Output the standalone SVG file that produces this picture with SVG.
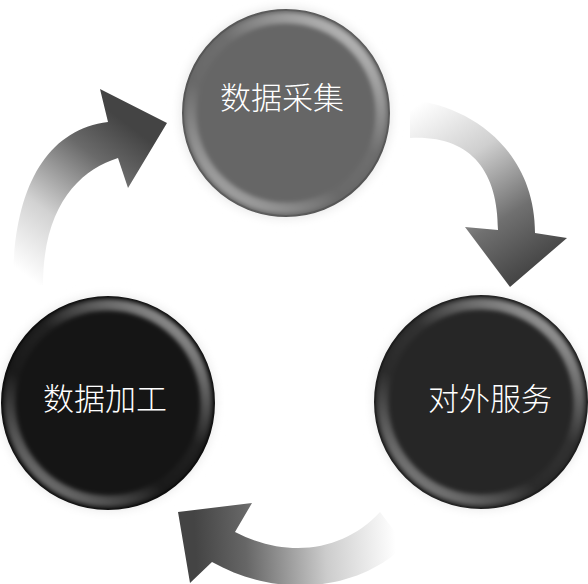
<svg xmlns="http://www.w3.org/2000/svg" width="588" height="584" viewBox="0 0 588 584">
<style>
.label{font-family:"Noto Sans CJK SC","Noto Sans",sans-serif;font-size:31px;font-weight:300;fill:#ffffff;text-anchor:middle}
.halo{filter:url(#blur3)}
.rim{fill:none;stroke:url(#rimHi);stroke-width:11;filter:url(#blur2)}
</style>
<defs>
<filter id="blur3" x="-20%" y="-20%" width="140%" height="140%"><feGaussianBlur stdDeviation="3"/></filter>
<filter id="blur2" x="-20%" y="-20%" width="140%" height="140%"><feGaussianBlur stdDeviation="2.2"/></filter>
<linearGradient id="rimHi" x1="0.85" y1="0.05" x2="0.15" y2="0.95">
<stop offset="0" stop-color="#fff" stop-opacity="0.55"/>
<stop offset="0.4" stop-color="#fff" stop-opacity="0.05"/>
<stop offset="0.65" stop-color="#fff" stop-opacity="0.02"/>
<stop offset="1" stop-color="#fff" stop-opacity="0.42"/>
</linearGradient>
<radialGradient id="haloG">
<stop offset="0.8" stop-color="#e2e2e2"/>
<stop offset="0.9" stop-color="#ebebeb"/>
<stop offset="1" stop-color="#ffffff" stop-opacity="0"/>
</radialGradient>
<linearGradient id="a1" gradientUnits="userSpaceOnUse" x1="25" y1="275" x2="135" y2="130">
<stop offset="0" stop-color="#ffffff"/>
<stop offset="0.35" stop-color="#d2d2d2"/>
<stop offset="0.75" stop-color="#6a6a6a"/>
<stop offset="1" stop-color="#444444"/>
</linearGradient>
<linearGradient id="a2" gradientUnits="userSpaceOnUse" x1="410" y1="110" x2="520" y2="280">
<stop offset="0" stop-color="#ffffff"/>
<stop offset="0.35" stop-color="#cfcfcf"/>
<stop offset="0.7" stop-color="#707070"/>
<stop offset="1" stop-color="#444444"/>
</linearGradient>
<linearGradient id="a3" gradientUnits="userSpaceOnUse" x1="395" y1="530" x2="195" y2="540">
<stop offset="0" stop-color="#ffffff"/>
<stop offset="0.35" stop-color="#cccccc"/>
<stop offset="0.75" stop-color="#666666"/>
<stop offset="1" stop-color="#444444"/>
</linearGradient>
</defs>

<g id="connectors">
<path id="arrow-left" fill="url(#a1)" d="M 13 285 C 13 190, 45 130, 108 122 L 100 89 L 167 123 L 128 188 L 118 158 C 80 170, 43 205, 43 285 Z"/>
<path id="arrow-right" fill="url(#a2)" d="M 410 100 C 470 105, 535 150, 535 233 L 567 238 L 510 287 L 465 227 L 498 230 C 498 170, 470 135, 410 138 Z"/>
<path id="arrow-bottom" fill="url(#a3)" d="M 380 512 C 345 550, 290 560, 235 532 L 252 503 L 178 512 L 190 583 L 212 562 C 280 600, 360 590, 405 545 Z"/>
</g>

<g id="node-collect">
<circle class="halo" cx="286" cy="113" r="114" fill="url(#haloG)"/>
<circle cx="286" cy="113" r="103" fill="#666666" stroke="#555" stroke-width="2"/>
<circle class="rim" cx="286" cy="113" r="95"/>
<text class="label" x="282" y="109">数据采集</text>
</g>

<g id="node-process">
<circle class="halo" cx="108" cy="403" r="116" fill="url(#haloG)"/>
<circle cx="108" cy="403" r="106" fill="#151515" stroke="#0d0d0d" stroke-width="2"/>
<circle class="rim" cx="108" cy="403" r="98"/>
<text class="label" x="105" y="410">数据加工</text>
</g>

<g id="node-serve">
<circle class="halo" cx="481" cy="402" r="116" fill="url(#haloG)"/>
<circle cx="481" cy="402" r="106" fill="#262626" stroke="#1c1c1c" stroke-width="2"/>
<circle class="rim" cx="481" cy="402" r="98"/>
<text class="label" x="490" y="410">对外服务</text>
</g>
</svg>
